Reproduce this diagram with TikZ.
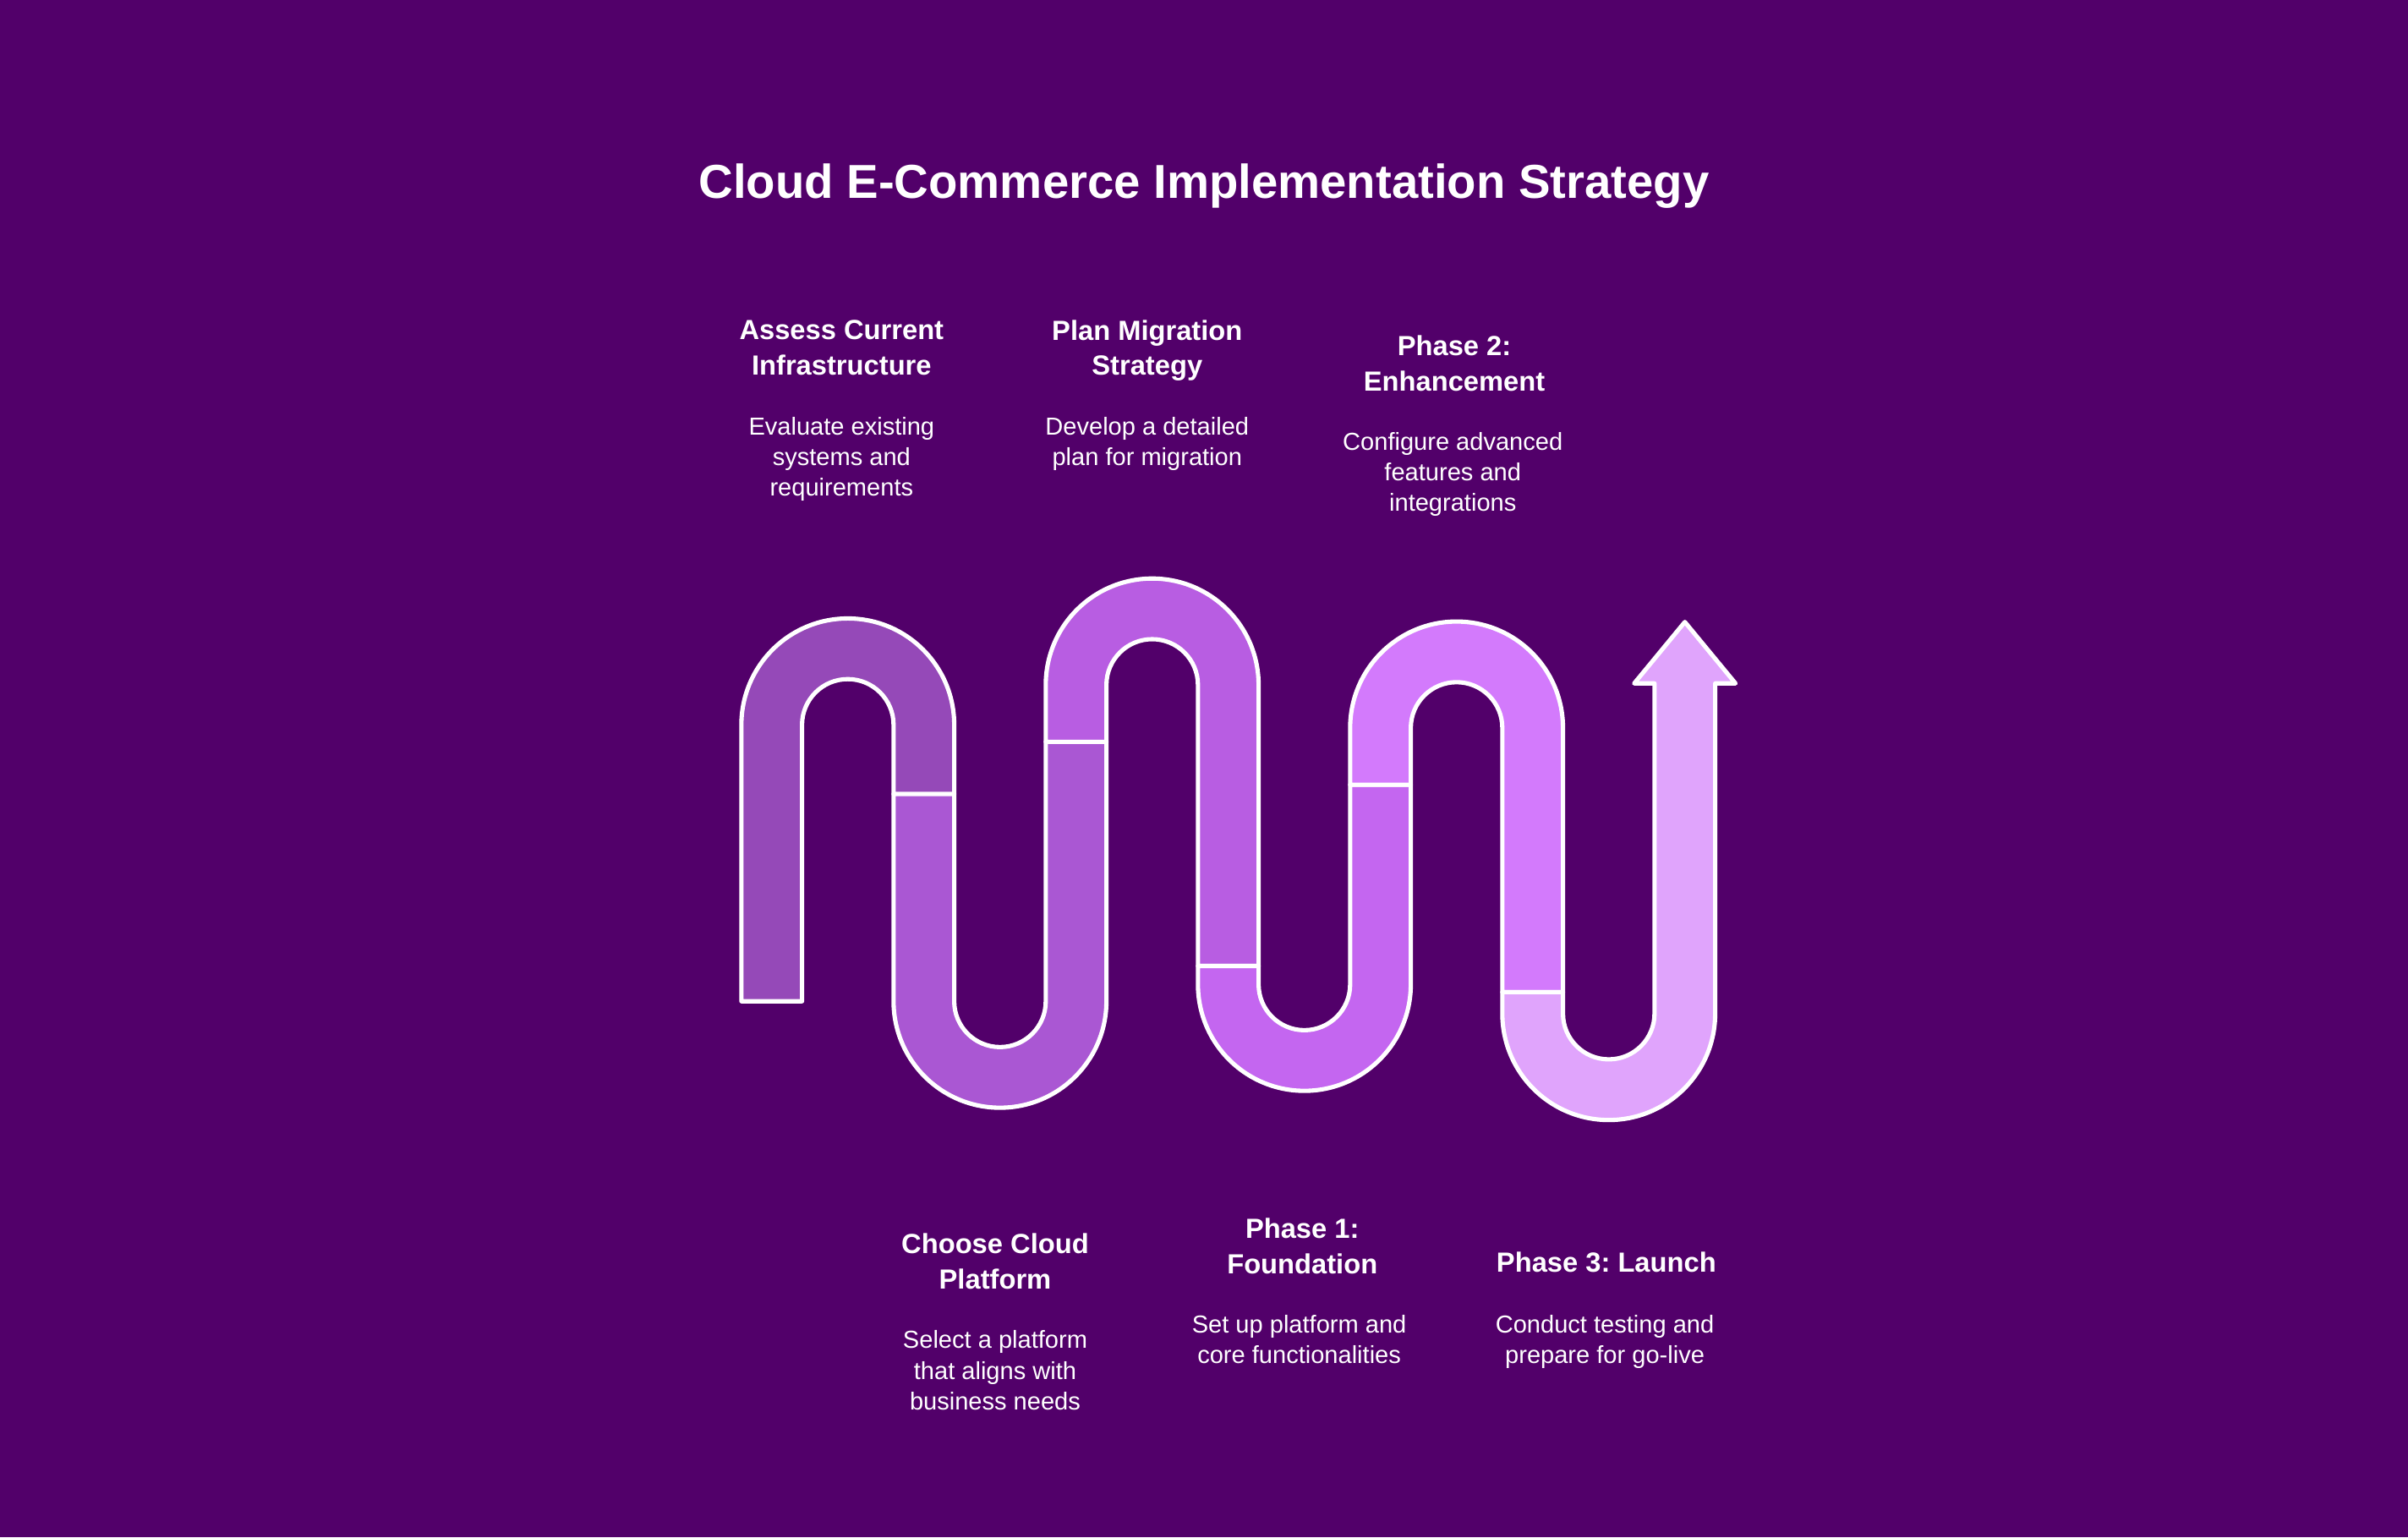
\documentclass[tikz,border=0pt]{standalone}
\usepackage{fontspec}
\setmainfont{Liberation Sans}
\frenchspacing
\definecolor{bgc}{HTML}{52006A}
\definecolor{sa}{HTML}{9549B8}
\definecolor{sb}{HTML}{AA57D3}
\definecolor{sc}{HTML}{B85DE2}
\definecolor{sd}{HTML}{C466F0}
\definecolor{se}{HTML}{D37AFC}
\definecolor{sf}{HTML}{E0A4FC}
\begin{document}
\begin{tikzpicture}[x=0.5pt,y=0.5pt,yscale=-1,
  band/.style={draw=white,line width=1.4pt,line join=round},
  ttl/.style={text=white,inner sep=0pt,anchor=north,font=\fontsize{15.5pt}{18pt}\selectfont\bfseries},
  head/.style={text=white,inner sep=0pt,anchor=north,align=center,font=\fontsize{9pt}{11.5pt}\selectfont\bfseries},
  desc/.style={text=white,inner sep=0pt,anchor=north,align=center,font=\fontsize{8pt}{10pt}\selectfont}]
\def\w{19.75}\def\Ro{69.3}\def\Ri{29.8}
\def\La{502.5}\def\Lb{601.6}\def\Lc{700.7}\def\Ld{799.8}\def\Le{898.9}\def\Lf{998}\def\Lg{1097.1}
\fill[bgc] (0,0) rectangle (1568,1001);
\useasboundingbox (0,0) rectangle (1568,1001);
% segment 1
\draw[band,fill=sa] (\La-\w,652) -- (\La-\w,472) arc[start angle=180,end angle=360,radius=\Ro]
  -- (\Lb+\w,517) -- (\Lb-\w,517) -- (\Lb-\w,472) arc[start angle=360,end angle=180,radius=\Ri]
  -- (\La+\w,652) -- cycle;
% segment 2
\draw[band,fill=sb] (\Lb-\w,517) -- (\Lb-\w,652) arc[start angle=180,end angle=0,radius=\Ro]
  -- (\Lc+\w,483) -- (\Lc-\w,483) -- (\Lc-\w,652) arc[start angle=0,end angle=180,radius=\Ri]
  -- (\Lb+\w,517) -- cycle;
% segment 3
\draw[band,fill=sc] (\Lc-\w,483) -- (\Lc-\w,446) arc[start angle=180,end angle=360,radius=\Ro]
  -- (\Ld+\w,629) -- (\Ld-\w,629) -- (\Ld-\w,446) arc[start angle=360,end angle=180,radius=\Ri]
  -- (\Lc+\w,483) -- cycle;
% segment 4
\draw[band,fill=sd] (\Ld-\w,629) -- (\Ld-\w,641) arc[start angle=180,end angle=0,radius=\Ro]
  -- (\Le+\w,511) -- (\Le-\w,511) -- (\Le-\w,641) arc[start angle=0,end angle=180,radius=\Ri]
  -- (\Ld+\w,629) -- cycle;
% segment 5
\draw[band,fill=se] (\Le-\w,511) -- (\Le-\w,474) arc[start angle=180,end angle=360,radius=\Ro]
  -- (\Lf+\w,646) -- (\Lf-\w,646) -- (\Lf-\w,474) arc[start angle=360,end angle=180,radius=\Ri]
  -- (\Le+\w,511) -- cycle;
% segment 6 with arrow head
\draw[band,fill=sf] (\Lf-\w,646) -- (\Lf-\w,660) arc[start angle=180,end angle=0,radius=\Ro]
  -- (\Lg+\w,445) -- (\Lg+\w+13.25,445) -- (\Lg,405) -- (\Lg-\w-13.25,445) -- (\Lg-\w,445)
  -- (\Lg-\w,660) arc[start angle=0,end angle=180,radius=\Ri]
  -- (\Lf+\w,646) -- cycle;
% texts
\node[ttl] (title) at (784,106) {Cloud E-Commerce Implementation Strategy};
\node[head] (h1) at (548,208) {Assess Current\\Infrastructure};
\node[desc] (d1) at (548,271) {Evaluate existing\\systems and\\requirements};
\node[head] (h3) at (747,208) {Plan Migration\\Strategy};
\node[desc] (d3) at (747,271) {Develop a detailed\\plan for migration};
\node[head] (h5) at (947,218) {Phase 2:\\Enhancement};
\node[desc] (d5) at (946,281) {Configure advanced\\features and\\integrations};
\node[head] (h2) at (648,803) {Choose Cloud\\Platform};
\node[desc] (d2) at (648,866) {Select a platform\\that aligns with\\business needs};
\node[head] (h4) at (848,793) {Phase 1:\\Foundation};
\node[desc] (d4) at (846,856) {Set up platform and\\core functionalities};
\node[head] (h6) at (1046,815) {Phase 3: Launch};
\node[desc] (d6) at (1045,856) {Conduct testing and\\prepare for go-live};
\end{tikzpicture}
\end{document}
